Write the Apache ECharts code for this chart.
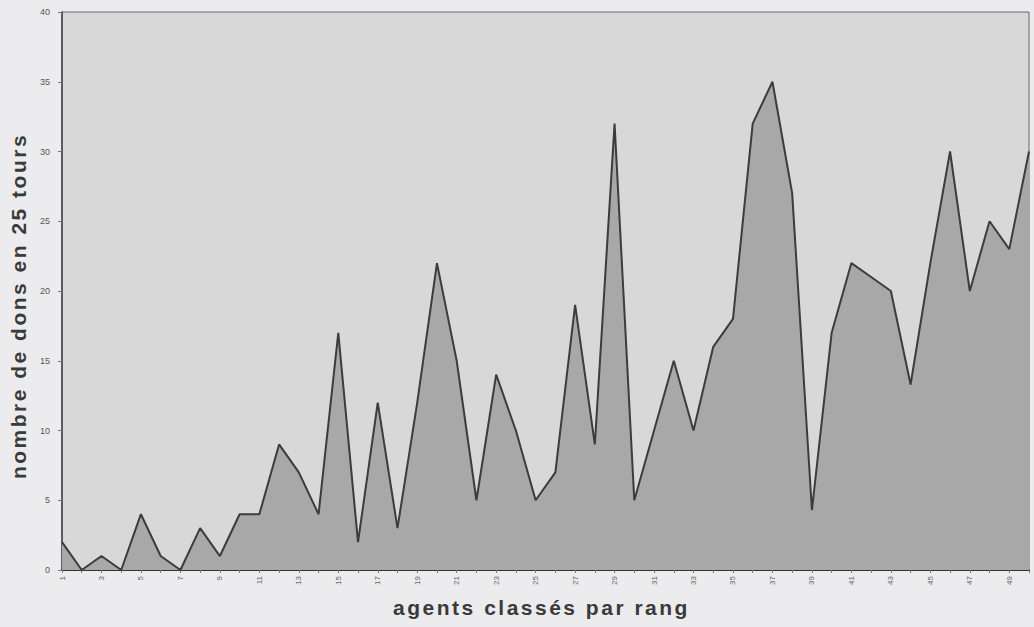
<!DOCTYPE html>
<html>
<head>
<meta charset="utf-8">
<script src="https://cdn.jsdelivr.net/npm/echarts@6/dist/echarts.min.js"></script>
<style>
  html, body { margin: 0; padding: 0; background: #ececee; }
  #chart { width: 1034px; height: 627px; }
</style>
</head>
<body>
<div id="chart"></div>
<script>
// Categories: agent ranks 1..50
const categories = ['1','2','3','4','5','6','7','8','9','10','11','12','13','14','15','16','17','18','19','20','21','22','23','24','25','26','27','28','29','30','31','32','33','34','35','36','37','38','39','40','41','42','43','44','45','46','47','48','49','50'];
// Number of gifts in 25 rounds
const dons = [2,0,1,0,4,1,0,3,1,4,4,9,7,4,17,2,12,3,12,22,15,5,14,10,5,7,19,9,32,5,10,15,10,16,18,32,35,27,4.3,17,22,21,20,13.3,22,30,20,25,23,30];
const yTicks = [0,5,10,15,20,25,30,35,40];
const xTitle = 'agents classés par rang';
const yTitle = 'nombre de dons en 25 tours';

const chart = echarts.init(document.getElementById('chart'), null, { renderer: 'svg' });
const option = {
  animation: false,
  backgroundColor: '#ececee',
  grid: {
    left: 60, right: 5, top: 12, bottom: 57,
    show: true, backgroundColor: '#d8d8d8', borderColor: '#666', borderWidth: 1
  },
  xAxis: {
    type: 'category',
    data: categories,
    boundaryGap: false,
    axisLine: { lineStyle: { color: '#333', width: 2 } },
    axisTick: { show: true, interval: 0, length: 3, lineStyle: { color: '#777' } },
    axisLabel: { interval: 1, rotate: 90, fontSize: 8, color: '#666', margin: 6, fontFamily: 'Liberation Sans' },
    name: xTitle,
    nameLocation: 'middle',
    nameGap: 27,
    nameTextStyle: { fontSize: 21, fontWeight: 'bold', color: '#3a3a3a', fontFamily: 'Liberation Sans', padding: [0, 8, 0, 0] }
  },
  yAxis: {
    type: 'value',
    min: yTicks[0], max: yTicks[yTicks.length - 1], interval: 5,
    splitLine: { show: false },
    axisLine: { show: true, lineStyle: { color: '#444', width: 1.5 } },
    axisTick: { show: true, length: 4, lineStyle: { color: '#777' } },
    axisLabel: { fontSize: 9, color: '#555', margin: 12, fontFamily: 'Liberation Sans' },
    name: yTitle,
    nameLocation: 'middle',
    nameGap: 33,
    nameTextStyle: { fontSize: 21, fontWeight: 'bold', color: '#3a3a3a', fontFamily: 'Liberation Sans', padding: [0, 30, 0, 0] }
  },
  series: [{
    type: 'line',
    data: dons,
    symbol: 'none',
    lineStyle: { color: '#3c3c3c', width: 2 },
    areaStyle: { color: '#a8a8a8', opacity: 1 }
  }]
};
chart.setOption(option);

function spaceTitles() {
  document.querySelectorAll('#chart text').forEach(t => {
    if (t.textContent === xTitle || t.textContent === yTitle) {
      t.setAttribute('letter-spacing', '2.5px');
      t.style.letterSpacing = '2.5px';
    }
  });
}
spaceTitles();
chart.on('finished', spaceTitles);
setTimeout(spaceTitles, 50);
</script>
</body>
</html>
